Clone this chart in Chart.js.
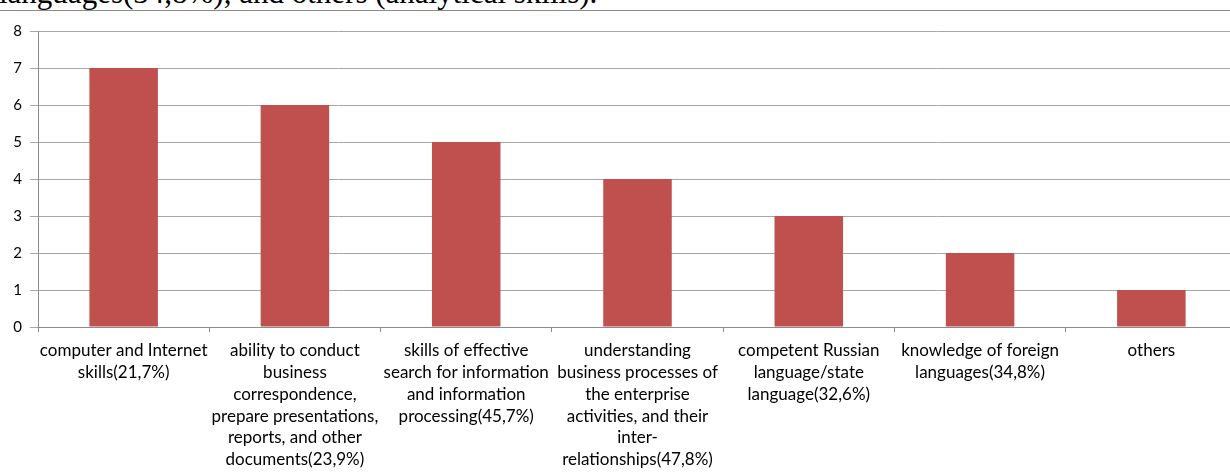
<!DOCTYPE html>
<html>
<head>
<meta charset="utf-8">
<script src="https://cdn.jsdelivr.net/npm/chart.js@4"></script>
<style>
  html, body { margin: 0; padding: 0; background: #fff; overflow: hidden; }
  body { width: 1230px; height: 474px; position: relative; }
  #topText {
    position: absolute; left: -1px; top: -22px; white-space: nowrap;
    font-family: "Liberation Serif", serif; font-size: 31px; line-height: 30px; color: #000;
  }
  #topLine { position: absolute; left: 0; top: 10px; width: 1230px; height: 1px; background: #8c8c8c; }
  #wrap { position: absolute; left: 0; top: 0; width: 1240px; height: 474px; }
</style>
</head>
<body>
<div id="topText">languages(34,8%), and others (analytical skills).</div>
<div id="topLine"></div>
<div id="wrap"><canvas id="myChart" width="1240" height="474"></canvas></div>
<script>
// categories (already wrapped like in the picture)
const categories = [
    ["computer and Internet", "skills(21,7%)"],
    ["ability to conduct", "business", "correspondence,", "prepare presentations,", "reports, and other", "documents(23,9%)"],
    ["skills of effective", "search for information", "and information", "processing(45,7%)"],
    ["understanding", "business processes of", "the enterprise", "activities, and their", "inter-", "relationships(47,8%)"],
    ["competent Russian", "language/state", "language(32,6%)"],
    ["knowledge of foreign", "languages(34,8%)"],
    ["others"]
];
const values = [7, 6, 5, 4, 3, 2, 1];
const yTicks = [0, 1, 2, 3, 4, 5, 6, 7, 8];

const ctx = document.getElementById('myChart').getContext('2d');

const myChart = new Chart(ctx, {
    type: 'bar',
    data: {
        labels: categories,
        datasets: [{
            data: values,
            backgroundColor: '#C0504D',
            borderWidth: 0,
            barPercentage: 0.4,
            categoryPercentage: 1
        }]
    },
    options: {
        responsive: false,
        animation: false,
        devicePixelRatio: 1,
        layout: { padding: { top: 31, right: 3, left: 0, bottom: 0 } },
        plugins: { legend: { display: false }, tooltip: { enabled: false } },
        scales: {
            x: {
                grid: {
                    offset: true,
                    drawOnChartArea: false,
                    drawTicks: true,
                    tickLength: 5,
                    color: '#8c8c8c'
                },
                border: { color: '#8c8c8c' },
                ticks: {
                    color: '#000',
                    maxRotation: 0,
                    autoSkip: false,
                    padding: 8,
                    font: { family: 'Lato', size: 17, lineHeight: 1.28 }
                },
                afterFit: (scale) => { scale.height = 147; }
            },
            y: {
                min: 0,
                max: 8,
                afterBuildTicks: (scale) => { scale.ticks = yTicks.map(v => ({ value: v })); },
                grid: { color: '#a6a6a6', tickLength: 8 },
                border: { color: '#8c8c8c' },
                ticks: {
                    color: '#000',
                    padding: 8,
                    font: { family: 'Lato', size: 15 }
                },
                afterFit: (scale) => { scale.width = 38; }
            }
        }
    }
});
</script>
</body>
</html>
